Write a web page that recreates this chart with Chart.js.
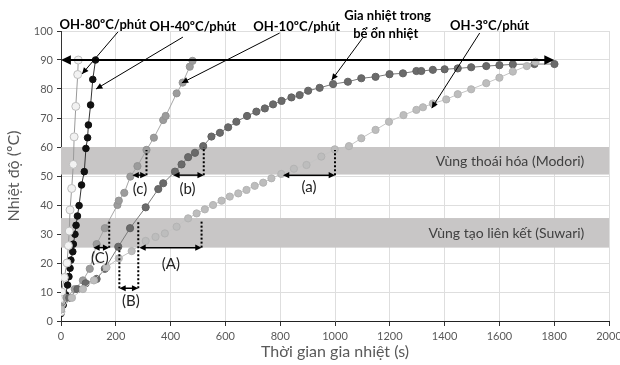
<!DOCTYPE html>
<html>
<head>
<meta charset="utf-8">
<script src="https://cdn.jsdelivr.net/npm/chart.js@4"></script>
<style>
  body { margin: 0; background: #fff; }
  #wrap { width: 620px; height: 365px; }
</style>
</head>
<body>
<div id="wrap"><canvas id="heatChart" width="620" height="365"></canvas></div>
<script>
// data (time in s, temperature in oC)
const oh80 = [[0,3.2],[1,5.5],[2,7.8],[3,10],[12,15],[22,20],[27,26],[30,31],[33,38.3],[39,45.7],[45,54],[48,63.5],[54,74],[61,85],[63,90]];
const oh40 = [[0,2.6],[8,5.5],[17,9],[24,12.4],[29,15.3],[33,18.2],[36,21],[43,23.9],[45,26.5],[51,29.9],[55,33],[60,36.2],[66,39.8],[75,46.9],[85,51.5],[91,59.5],[97,63.2],[100,67.6],[108,74.5],[116,83.3],[126,90]];
const oh10 = [[0,5],[20,8],[50,11],[80,14],[105,18],[130,26.5],[160,32],[206,40],[211,41.5],[231,44.2],[253,49.8],[279,53.4],[312,59],[339,63.2],[373,69.3],[382,70.7],[422,78.5],[444,82.2],[470,87.7],[480,89.7]];
const bath = [[0,4],[30,8],[60,11],[90,13],[130,14.5],[160,18],[209,25.6],[252,32],[309,39.2],[355,45.5],[373,47.5],[416,51.5],[440,54],[464,56.5],[489,58],[519,60.3],[549,63.6],[580,64.9],[610,66.8],[640,68.7],[679,70.7],[713,72.2],[744,73.3],[774,74.7],[805,75.9],[841,77.1],[871,77.9],[902,79.4],[944,80.4],[993,81.7],[1047,82.5],[1096,83.7],[1148,84.2],[1199,85.1],[1248,85.4],[1297,86.2],[1315,86.2],[1357,86.6],[1400,86.8],[1448,87.1],[1497,87.5],[1552,87.9],[1600,88.2],[1649,88.5],[1728,88.6],[1801,88.6]];
const oh3 = [[0,4],[40,8],[80,11],[120,14],[166,18.5],[211,21.6],[258,24.1],[309,27.6],[345,29],[379,30.2],[422,32.5],[464,35.4],[495,37.1],[525,38.5],[555,40],[586,41.5],[616,42.9],[647,44],[677,45.2],[707,46.6],[738,47.7],[768,49.2],[804,50.7],[850,52.5],[896,53.8],[950,56.7],[999,59.2],[1051,60.3],[1096,63],[1148,65.9],[1197,68.7],[1250,71],[1297,72.8],[1321,73.7],[1357,75],[1406,76.4],[1448,78.2],[1497,79.9],[1552,82],[1600,83.9],[1649,86],[1700,87.9],[1732,89.4]];

// zones [from, to, label]
const zones = [[50.5, 60, 'Vùng thoái hóa (Modori)'], [25.3, 35.5, 'Vùng tạo liên kết (Suwari)']];
// dotted drops [x, yFrom, yTo]
const drops = [[1000,50.3,59],[521,50.3,60],[312,50.3,59],[176,25.3,34.8],[213,11.3,25.4],[282,11.3,34.3],[513,25.3,34.8]];
// time spans [x1, x2, y, label, labelX, labelY]
const spans = [[810,1000,50.3,'(a)',905,46],[410,521,50.3,'(b)',462,45.5],[261,312,50.3,'(c)',288,45.5],
               [118,176,25.3,'(C)',142,21.5],[213,282,11.3,'(B)',255,7],[286,513,25.3,'(A)',401,19.5]];
// curve labels [text, x, y, fromX, fromY, toX, toY]
const tags = [['OH-80ºC/phút',153,102.3,208,99.7,77,85.2],
              ['OH-40ºC/phút',481,101.3,445,97.9,128,80],
              ['OH-10ºC/phút',860,101.6,798,99.3,441,82.1],
              ['Gia nhiệt trong',1192,105.3,1101,97.6,988,83.1],
              ['OH-3ºC/phút',1564,101.7,1528,99.3,1353,73.4]];

const pts = a => a.map(p => ({x: p[0], y: p[1]}));

function arrowHead(ctx, x1, y1, x2, y2, size) {
  const ang = Math.atan2(y2 - y1, x2 - x1);
  ctx.beginPath();
  ctx.moveTo(x2, y2);
  ctx.lineTo(x2 - size * Math.cos(ang - 0.45), y2 - size * Math.sin(ang - 0.45));
  ctx.lineTo(x2 - size * Math.cos(ang + 0.45), y2 - size * Math.sin(ang + 0.45));
  ctx.closePath();
  ctx.fill();
}

const extras = {
  id: 'extras',
  beforeDatasetsDraw(chart) {
    const {ctx, scales: {x, y}} = chart;
    ctx.save();
    zones.forEach(z => {
      const top = y.getPixelForValue(z[1]), bot = y.getPixelForValue(z[0]);
      ctx.fillStyle = '#c8c6c6';
      ctx.fillRect(x.getPixelForValue(0), top, x.getPixelForValue(2000) - x.getPixelForValue(0), bot - top);
      ctx.fillStyle = '#404040';
      ctx.font = '14px Lato';
      ctx.textAlign = 'right';
      ctx.textBaseline = 'middle';
      ctx.fillText(z[2], x.getPixelForValue(1910), (top + bot) / 2 + 1);
    });
    ctx.restore();
  },
  afterDatasetsDraw(chart) {
    const {ctx, scales: {x, y}} = chart;
    ctx.save();
    ctx.fillStyle = '#000';
    ctx.strokeStyle = '#000';
    // 90 degree line
    const y90 = y.getPixelForValue(90);
    const xa = x.getPixelForValue(0), xb = x.getPixelForValue(1800);
    ctx.lineWidth = 2.2;
    ctx.beginPath(); ctx.moveTo(xa + 6, y90); ctx.lineTo(xb - 6, y90); ctx.stroke();
    arrowHead(ctx, xb, y90, xa, y90, 11);
    arrowHead(ctx, xa, y90, xb, y90, 11);
    // dotted drops
    ctx.lineWidth = 2;
    ctx.setLineDash([2, 2]);
    drops.forEach(d => {
      const px = x.getPixelForValue(d[0]);
      ctx.beginPath(); ctx.moveTo(px, y.getPixelForValue(d[1])); ctx.lineTo(px, y.getPixelForValue(d[2])); ctx.stroke();
    });
    ctx.setLineDash([]);
    // spans
    ctx.lineWidth = 1.5;
    ctx.font = '15px Lato';
    ctx.textAlign = 'center';
    ctx.textBaseline = 'middle';
    spans.forEach(s => {
      const p1 = x.getPixelForValue(s[0]), p2 = x.getPixelForValue(s[1]), py = y.getPixelForValue(s[2]);
      ctx.beginPath(); ctx.moveTo(p1 + 4, py); ctx.lineTo(p2 - 4, py); ctx.stroke();
      arrowHead(ctx, p2, py, p1, py, 7);
      arrowHead(ctx, p1, py, p2, py, 7);
      ctx.fillStyle = '#222';
      ctx.fillText(s[3], x.getPixelForValue(s[4]), y.getPixelForValue(s[5]));
      ctx.fillStyle = '#000';
    });
    // curve labels
    ctx.font = 'bold 13px Lato';
    ctx.lineWidth = 1;
    tags.forEach(t => {
      ctx.fillText(t[0], x.getPixelForValue(t[1]), y.getPixelForValue(t[2]));
      const fx = x.getPixelForValue(t[3]), fy = y.getPixelForValue(t[4]);
      const tx = x.getPixelForValue(t[5]), ty = y.getPixelForValue(t[6]);
      ctx.beginPath(); ctx.moveTo(fx, fy); ctx.lineTo(tx, ty); ctx.stroke();
      arrowHead(ctx, fx, fy, tx, ty, 7);
    });
    ctx.fillText('bể ổn nhiệt', x.getPixelForValue(1185), y.getPixelForValue(99.1));
    ctx.restore();
  }
};

const series = (data, fill, edge, line, r) => ({
  data: pts(data), showLine: true, borderColor: line, borderWidth: 1,
  pointBackgroundColor: fill, pointBorderColor: edge, pointBorderWidth: 1, pointRadius: r
});

new Chart(document.getElementById('heatChart'), {
  type: 'scatter',
  data: {
    datasets: [
      series(oh3, '#bdbdbd', '#b3b3b3', '#c4c4c4', 3.6),
      series(bath, '#6a6a6a', '#626262', '#7a7a7a', 3.6),
      series(oh10, '#9c9c9c', '#939393', '#a6a6a6', 3.6),
      series(oh80, '#f2f2f2', '#bdbdbd', '#9a9a9a', 4),
      series(oh40, '#111', '#111', '#333', 3.3)
    ]
  },
  options: {
    responsive: false,
    animation: false,
    layout: { padding: { left: 0, right: 11, top: 31, bottom: 0 } },
    plugins: { legend: { display: false }, tooltip: { enabled: false } },
    scales: {
      x: {
        type: 'linear', min: 0, max: 2000,
        ticks: { stepSize: 200, color: '#595959', font: { family: 'Lato', size: 11 }, maxRotation: 0, padding: 4, callback: v => String(v) },
        grid: { color: '#dedede', tickColor: '#333', tickLength: 5 },
        border: { color: '#222', width: 1 },
        title: { display: true, text: 'Thời gian gia nhiệt (s)', color: '#595959', font: { family: 'Lato', size: 16 }, padding: { top: 4 } },
        afterFit: s => { s.height = 44; s.paddingLeft = 0; s.paddingRight = 0; }
      },
      y: {
        min: 0, max: 100,
        ticks: { stepSize: 10, color: '#595959', font: { family: 'Lato', size: 11 }, padding: 4, callback: v => String(v) },
        grid: { color: '#dedede', tickColor: '#333', tickLength: 4 },
        border: { color: '#333', width: 1 },
        title: { display: true, text: 'Nhiệt độ (ºC)', color: '#595959', font: { family: 'Lato', size: 16 }, padding: { bottom: 4 } },
        afterFit: s => { s.width = 61; s.paddingTop = 0; s.paddingBottom = 0; }
      }
    }
  },
  plugins: [extras]
});
</script>
</body>
</html>
